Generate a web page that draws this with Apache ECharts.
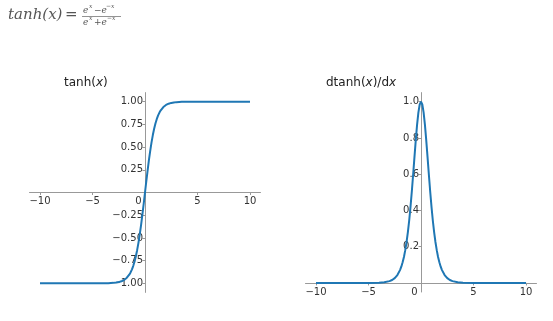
<!DOCTYPE html>
<html><head><meta charset="utf-8">
<script src="https://cdn.jsdelivr.net/npm/echarts@6/dist/echarts.min.js"></script>
<style>html,body{margin:0;padding:0;background:#fff}#c{width:553px;height:321px}</style>
</head><body><div id="c"></div>
<script>
// x sample positions
const xs = [-10,-8,-6,-5,-4,-3.5,-3,-2.75,-2.5,-2.25,-2,-1.875,-1.75,-1.625,-1.5,-1.375,-1.25,-1.125,-1,-0.875,-0.75,-0.625,-0.5,-0.375,-0.25,-0.125,0,0.125,0.25,0.375,0.5,0.625,0.75,0.875,1,1.125,1.25,1.375,1.5,1.625,1.75,1.875,2,2.25,2.5,2.75,3,3.5,4,5,6,8,10];
// tanh(x) values
const tanhVals = [-1,-1,-1,-0.9999,-0.9993,-0.9982,-0.9951,-0.9919,-0.9866,-0.978,-0.964,-0.9541,-0.9414,-0.9257,-0.9051,-0.8799,-0.8483,-0.8096,-0.7616,-0.7039,-0.6351,-0.5546,-0.4621,-0.3584,-0.2449,-0.1244,0,0.1244,0.2449,0.3584,0.4621,0.5546,0.6351,0.7039,0.7616,0.8096,0.8483,0.8799,0.9051,0.9257,0.9414,0.9541,0.964,0.978,0.9866,0.9919,0.9951,0.9982,0.9993,0.9999,1,1,1];
// dtanh(x)/dx values
const dtanhVals = [0,0,0,0.0002,0.0013,0.0036,0.0099,0.0161,0.0266,0.0435,0.0707,0.0897,0.1138,0.1431,0.1807,0.2258,0.2804,0.3445,0.42,0.5045,0.5966,0.6924,0.7864,0.8716,0.94,0.9845,1,0.9845,0.94,0.8716,0.7864,0.6924,0.5966,0.5045,0.42,0.3445,0.2804,0.2258,0.1807,0.1431,0.1138,0.0897,0.0707,0.0435,0.0266,0.0161,0.0099,0.0036,0.0013,0.0002,0,0,0];
const xTicks = [-10,-5,0,5,10];
const yTicksLeft = [-1,-0.75,-0.5,-0.25,0.25,0.5,0.75,1];
const yTicksRight = [0.2,0.4,0.6,0.8,1.0];

const minus = v => String(v).replace('-', '\u2212');
const axisCol = '#999';
const labCol = '#333';
const font = 'DejaVu Sans';

function xAxisCfg(gi){
  return {
    type:'value', gridIndex:gi, min:-11, max:11, position:'bottom', offset:0,
    axisLine:{onZero:false, lineStyle:{color:axisCol,width:1}},
    axisTick:{show:true, length:2.5, lineStyle:{color:axisCol}, customValues:xTicks},
    axisLabel:{color:labCol, fontFamily:font, fontSize:10, margin:4, customValues:xTicks,
      formatter:v => v===0 ? '{z|0}' : minus(v),
      rich:{z:{color:labCol, fontFamily:font, fontSize:10, padding:[0,13,6,0]}}},
    splitLine:{show:false}
  };
}
function yAxisCfg(gi,min,max,ticks,dec){
  return {
    type:'value', gridIndex:gi, min:min, max:max, position:'left', offset:0,
    axisLine:{onZero:false, lineStyle:{color:axisCol,width:1}},
    axisTick:{show:true, length:2.5, lineStyle:{color:axisCol}, customValues:ticks},
    axisLabel:{color:labCol, fontFamily:font, fontSize:10, margin:2, customValues:ticks,
      formatter:v => minus(v.toFixed(dec))},
    splitLine:{show:false}
  };
}

const grids = [
  {left:29.5, top:92.6, width:231, height:199.8, outerBoundsMode:'none', containLabel:false},
  {left:305.5, top:92.6, width:231, height:199.4, outerBoundsMode:'none', containLabel:false}
];

const chart = echarts.init(document.getElementById('c'), null, {renderer:'canvas'});
chart.setOption({
  animation:false,
  backgroundColor:'#fff',
  grid:grids,
  xAxis:[xAxisCfg(0), xAxisCfg(1)],
  yAxis:[yAxisCfg(0,-1.1,1.1,yTicksLeft,2), yAxisCfg(1,-0.05,1.05,yTicksRight,1)],
  series:[
    {type:'line', xAxisIndex:0, yAxisIndex:0, data:xs.map((x,i)=>[x,tanhVals[i]]),
     showSymbol:false, smooth:false, lineStyle:{color:'#1f77b4', width:2}},
    {type:'line', xAxisIndex:1, yAxisIndex:1, data:xs.map((x,i)=>[x,dtanhVals[i]]),
     showSymbol:false, smooth:false, lineStyle:{color:'#1f77b4', width:2}}
  ],
  graphic:[
    {type:'text', left:64, top:77, style:{text:'tanh({i|x})', fill:'#222', font:'12px DejaVu Sans',
      rich:{i:{fontStyle:'italic', fontSize:12, fontFamily:'DejaVu Sans', fill:'#222'}}}},
    {type:'text', left:326, top:77, style:{text:'dtanh({i|x})/d{i|x}', fill:'#222', font:'12px DejaVu Sans',
      rich:{i:{fontStyle:'italic', fontSize:12, fontFamily:'DejaVu Sans', fill:'#222'}}}},
    // formula header
    {type:'text', left:8, top:8, style:{text:'tanh(x)', fill:'#555', font:'italic 15px "DejaVu Serif"'}},
    {type:'text', left:65, top:8, style:{text:'=', fill:'#555', font:'15px "DejaVu Serif"'}},
    {type:'text', left:83, top:6, style:{text:'e', fill:'#555', font:'italic 9px "DejaVu Serif"'}},
    {type:'text', left:89, top:3, style:{text:'x', fill:'#555', font:'italic 6px "DejaVu Serif"'}},
    {type:'text', left:94, top:6, style:{text:'\u2212e', fill:'#555', font:'italic 9px "DejaVu Serif"'}},
    {type:'text', left:106, top:3, style:{text:'\u2212x', fill:'#555', font:'italic 6px "DejaVu Serif"'}},
    {type:'line', shape:{x1:82, y1:16.5, x2:121, y2:16.5}, style:{stroke:'#777', lineWidth:0.8}},
    {type:'text', left:83, top:18, style:{text:'e', fill:'#555', font:'italic 9px "DejaVu Serif"'}},
    {type:'text', left:89, top:15.5, style:{text:'x', fill:'#555', font:'italic 6px "DejaVu Serif"'}},
    {type:'text', left:94, top:18, style:{text:'+e', fill:'#555', font:'italic 9px "DejaVu Serif"'}},
    {type:'text', left:107, top:15.5, style:{text:'\u2212x', fill:'#555', font:'italic 6px "DejaVu Serif"'}}
  ]
});

// move the axes so they cross at the data origin, using the library's own scales
const xOff = [], yOff = [];
[0,1].forEach(gi => {
  const p = chart.convertToPixel({gridIndex:gi}, [0,0]);
  const g = grids[gi];
  const bottom = g.top + g.height;
  xOff.push({offset: -(bottom - p[1])});
  yOff.push({offset: -(p[0] - g.left)});
});
chart.setOption({xAxis:xOff, yAxis:yOff});
</script></body></html>
